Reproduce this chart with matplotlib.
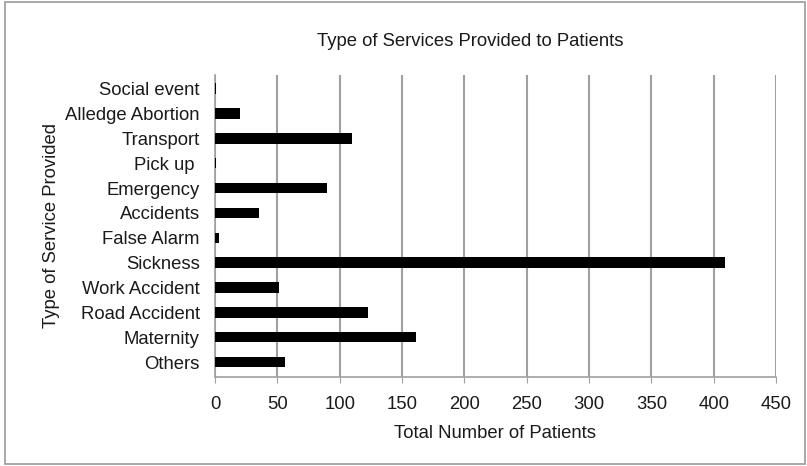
import matplotlib.pyplot as plt
from matplotlib.patches import Rectangle

plt.rcParams['font.family'] = ['Liberation Sans', 'DejaVu Sans']

# categories listed bottom to top
services = ["Others", "Maternity", "Road Accident", "Work Accident", "Sickness",
            "False Alarm", "Accidents", "Emergency", "Pick up ", "Transport",
            "Alledge Abortion", "Social event"]
patients = [56, 161, 123, 51, 409, 3, 35, 90, 1, 110, 20, 1]
xticks = list(range(0, 451, 50))

fs = 13.3
txt = "#1a1a1a"

fig = plt.figure(figsize=(8.07, 4.66), dpi=100)
ax = fig.add_axes([215 / 807, 1 - 377 / 466, 561 / 807, 302 / 466])

ax.barh(range(len(services)), patients, height=0.42, color="black", zorder=3)

ax.set_xlim(0, 450)
ax.set_ylim(-0.6, len(services) - 0.45)
ax.set_xticks(xticks)
ax.set_yticks(range(len(services)))
ax.set_yticklabels(services)
ax.grid(axis="x", color="#a0a0a0", linewidth=1.5, zorder=0)
ax.tick_params(axis="y", length=0, labelsize=fs, pad=11, colors=txt)
ax.tick_params(axis="x", length=4, color="#a0a0a0", labelsize=fs, pad=10,
               labelcolor=txt)

for side in ["top", "right"]:
    ax.spines[side].set_visible(False)
for side in ["left", "bottom"]:
    ax.spines[side].set_color("#a0a0a0")
    ax.spines[side].set_linewidth(1.2)

ax.set_xlabel("Total Number of Patients", fontsize=fs, labelpad=8, color=txt)
ax.set_ylabel("Type of Service Provided", fontsize=fs, labelpad=4, color=txt)
fig.text(470 / 807, 1 - 41 / 466, "Type of Services Provided to Patients",
         ha="center", va="center", fontsize=fs, color=txt)

fig.patches.append(Rectangle((5 / 807, 2 / 466), 800 / 807, 462 / 466,
                             transform=fig.transFigure, fill=False,
                             edgecolor="#9a9a9a", linewidth=1.2))

fig.savefig("out.png", dpi=100)
